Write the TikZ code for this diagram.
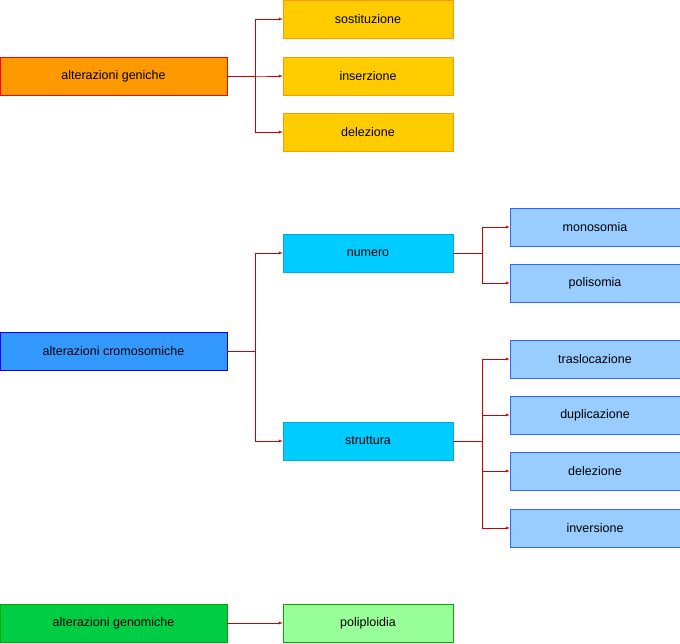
\documentclass[tikz,border=0pt]{standalone}
\usepackage{fontspec}
\setmainfont{Liberation Sans}
\usetikzlibrary{positioning,arrows}
\definecolor{linkred}{HTML}{CC0000}
\begin{document}
\begin{tikzpicture}[x=1pt,y=-1pt,
	box/.style={draw,minimum width=227pt,minimum height=38pt,inner sep=0pt,font=\fontsize{12.5}{14}\selectfont},
	sub/.style={draw,minimum width=170pt,minimum height=38pt,inner sep=0pt,font=\fontsize{12.5}{14}\selectfont},
	link/.style={linkred,-latex}]
	\useasboundingbox (0,0) rectangle (680,643);
	% colonna sinistra
	\node[box,fill={rgb,255:red,255;green,153;blue,0},draw=red] (geniche) at (113.5,76) {alterazioni geniche};
	\node[box,fill={rgb,255:red,51;green,153;blue,255},draw=blue] (cromo) at (113.5,351) {alterazioni cromosomiche};
	\node[box,fill={rgb,255:red,0;green,204;blue,68},draw={rgb,255:red,0;green,170;blue,0}] (genomiche) at (113.5,623) {alterazioni genomiche};
	% colonna centrale
	\tikzset{gial/.style={sub,fill={rgb,255:red,255;green,204;blue,0},draw={rgb,255:red,255;green,153;blue,0}}}
	\node[gial] (sost) at (368,19) {sostituzione};
	\node[gial] (ins) at (368,76) {inserzione};
	\node[gial] (del) at (368,132) {delezione};
	\node[sub,fill={rgb,255:red,0;green,204;blue,255},draw={rgb,255:red,0;green,170;blue,230}] (numero) at (368,253) {numero};
	\node[sub,fill={rgb,255:red,0;green,204;blue,255},draw={rgb,255:red,0;green,170;blue,230}] (strutt) at (368,441) {struttura};
	\node[sub,fill={rgb,255:red,153;green,255;blue,153},draw={rgb,255:red,0;green,170;blue,0}] (poli) at (368,623) {poliploidia};
	% colonna destra
	\tikzset{az/.style={sub,fill={rgb,255:red,153;green,204;blue,255},draw={rgb,255:red,51;green,102;blue,255}}}
	\node[az] (mono) at (595,227) {monosomia};
	\node[az] (polis) at (595,283) {polisomia};
	\node[az] (trasl) at (595,359) {traslocazione};
	\node[az] (dupl) at (595,415) {duplicazione};
	\node[az] (del2) at (595,471) {delezione};
	\node[az] (inv) at (595,528) {inversione};
	% connettori
	\foreach \t in {sost,ins,del} \draw[link] (geniche.east) -- ++(28,0) |- (\t.west);
	\foreach \t in {numero,strutt} \draw[link] (cromo.east) -- ++(28,0) |- (\t.west);
	\foreach \t in {mono,polis} \draw[link] (numero.east) -- ++(29,0) |- (\t.west);
	\foreach \t in {trasl,dupl,del2,inv} \draw[link] (strutt.east) -- ++(29,0) |- (\t.west);
	\draw[link] (genomiche) -- (poli);
\end{tikzpicture}
\end{document}
